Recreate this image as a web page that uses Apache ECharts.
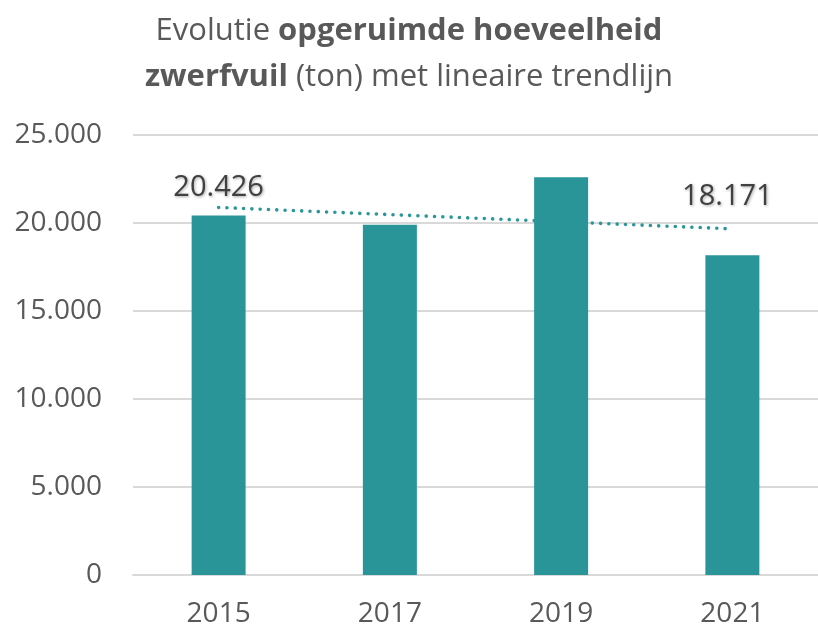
<!DOCTYPE html>
<html>
<head>
<meta charset="utf-8">
<script src="https://cdn.jsdelivr.net/npm/echarts@6/dist/echarts.min.js"></script>
<style>html,body{margin:0;padding:0;background:#fff}#c{width:818px;height:628px}</style>
</head>
<body>
<div id="c"></div>
<script>
var years = ['2015', '2017', '2019', '2021'];
var tonnes = [20426, 19900, 22600, 18171];
var labelledIdx = [0, 3];
var trendStart = 20884;
var trendEnd = 19664;
var yTicks = [0, 5000, 10000, 15000, 20000, 25000];

function fmt(v) {
  return String(v).replace(/\B(?=(\d{3})+(?!\d))/g, '.');
}

var labelOffsets = { 0: [0, -13], 3: [-5, -44] };

var barData = tonnes.map(function (v, i) {
  var item = { value: v };
  if (labelledIdx.indexOf(i) >= 0) {
    item.label = { show: true, offset: labelOffsets[i] };
  }
  return item;
});

var trendData = years.map(function (y, i) {
  if (i === 0) return trendStart;
  if (i === years.length - 1) return trendEnd;
  return null;
});

var FONT = 'Open Sans';
var chart = echarts.init(document.getElementById('c'), null, { renderer: 'canvas' });
chart.setOption({
  animation: false,
  backgroundColor: '#ffffff',
  title: {
    left: 'center',
    top: 3,
    text: '{n|Evolutie }{b|opgeruimde hoeveelheid}\n{b|zwerfvuil}{n| (ton) met lineaire trendlijn}',
    textStyle: {
      rich: {
        n: { fontFamily: FONT, fontSize: 31, color: '#595959', fontWeight: 'normal', lineHeight: 46 },
        b: { fontFamily: FONT, fontSize: 31, color: '#595959', fontWeight: 'bold', lineHeight: 46 }
      }
    }
  },
  grid: { left: 133, right: 0, top: 135, bottom: 53, containLabel: false },
  xAxis: {
    type: 'category',
    data: years,
    axisTick: { show: false },
    axisLine: { show: true, lineStyle: { color: '#d9d9d9', width: 2 } },
    axisLabel: { color: '#595959', fontFamily: FONT, fontSize: 28, margin: 25 }
  },
  yAxis: {
    type: 'value',
    min: yTicks[0],
    max: yTicks[yTicks.length - 1],
    interval: yTicks[1] - yTicks[0],
    axisLine: { show: false },
    axisTick: { show: false },
    splitLine: { lineStyle: { color: '#d9d9d9', width: 2 } },
    axisLabel: { color: '#595959', fontFamily: FONT, fontSize: 28, margin: 31, formatter: fmt }
  },
  series: [
    {
      type: 'line',
      data: trendData,
      connectNulls: true,
      symbol: 'none',
      z: 1,
      lineStyle: { color: '#2a9699', width: 3.6, type: [0.01, 8.3], cap: 'round' }
    },
    {
      type: 'bar',
      data: barData,
      barWidth: 54,
      z: 3,
      itemStyle: { color: '#2a9599' },
      label: {
        show: false,
        position: 'top',
        distance: 0,
        color: '#404040',
        fontFamily: FONT,
        fontSize: 29,
        formatter: function (p) { return fmt(p.value); },
        textShadowColor: 'rgba(0,0,0,0.35)',
        textShadowBlur: 3,
        textShadowOffsetX: 1,
        textShadowOffsetY: 1
      }
    }
  ]
});
</script>
</body>
</html>
